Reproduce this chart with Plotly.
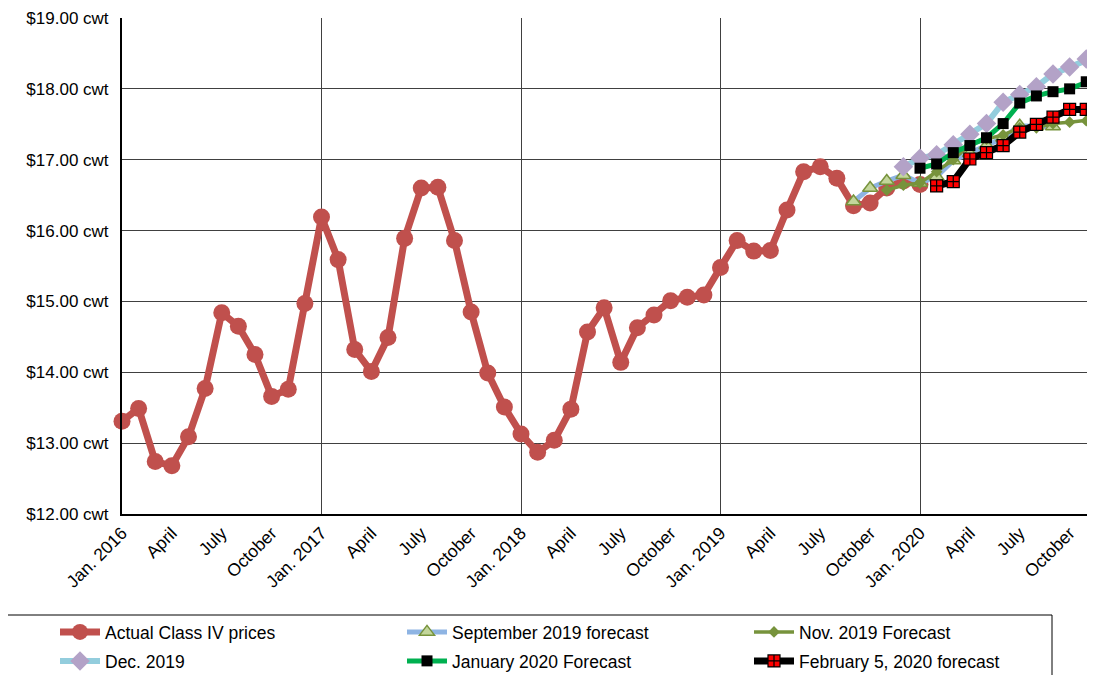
import plotly.graph_objects as go

# ---- data ----
months = [f"{y}-{m:02d}" for y in range(2016, 2021) for m in range(1, 13)]
tick_months = months[::3][:20]
tick_labels = ["Jan. 2016", "April", "July", "October",
               "Jan. 2017", "April", "July", "October",
               "Jan. 2018", "April", "July", "October",
               "Jan. 2019", "April", "July", "October",
               "Jan. 2020", "April", "July", "October"]

actual = [13.31, 13.49, 12.74, 12.68, 13.09, 13.77, 14.84, 14.65, 14.25, 13.66, 13.76, 14.97,
          16.19, 15.59, 14.32, 14.01, 14.49, 15.89, 16.60, 16.61, 15.86, 14.85, 13.99, 13.51,
          13.13, 12.87, 13.04, 13.48, 14.57, 14.91, 14.14, 14.63, 14.81, 15.01, 15.06, 15.09,
          15.48, 15.86, 15.71, 15.72, 16.29, 16.83, 16.90, 16.74, 16.35, 16.39, 16.60, 16.70,
          16.65]
actual_start = "2016-01"

sep_fc = [16.41, 16.60, 16.70, 16.78, 16.67, 16.76, 16.99, 17.09, 17.20, 17.31, 17.48, 17.47, 17.47]
sep_start = "2019-09"
nov_fc = [16.57, 16.64, 16.67, 16.83, 17.00, 17.21, 17.29, 17.35, 17.45, 17.45, 17.51, 17.53, 17.55, 17.58]
nov_start = "2019-11"
dec_fc = [16.90, 17.02, 17.07, 17.21, 17.36, 17.51, 17.81, 17.92, 18.03, 18.21, 18.31, 18.42, 18.50]
dec_start = "2019-12"
jan_fc = [16.88, 16.94, 17.10, 17.20, 17.31, 17.51, 17.80, 17.90, 17.96, 18.00, 18.10, 18.18]
jan_start = "2020-01"
feb_fc = [16.63, 16.69, 17.01, 17.10, 17.20, 17.39, 17.50, 17.60, 17.71, 17.71, 17.72]
feb_start = "2020-02"

series_names = ["Actual Class IV prices", "September 2019 forecast", "Nov. 2019 Forecast",
                "Dec. 2019", "January 2020 Forecast", "February 5, 2020 forecast"]
y_ticks = [12, 13, 14, 15, 16, 17, 18, 19]
y_tick_labels = [f"${v:.2f} cwt" for v in y_ticks]
year_starts = ["2016-01", "2017-01", "2018-01", "2019-01", "2020-01"]


def xs(start, values):
    i0 = months.index(start)
    return list(range(i0, i0 + len(values)))


FONT = "Liberation Sans, Arial, sans-serif"
OFF = 8                      # page body margin of the rendered html
W, H = 1095 - OFF, 675 - OFF
# desired plot area in screenshot pixels: left 122, top 18, bottom 514, right 1095
ML = 122 - OFF
MT = 18 - OFF
MB = H - (514 - OFF)
MR = 0

fig = go.Figure()

fig.add_trace(go.Scatter(
    x=xs(actual_start, actual), y=actual, name=series_names[0], mode="lines+markers",
    line=dict(color="#C0504D", width=7), legend="legend",
    marker=dict(symbol="circle", size=17, color="#C0504D"), cliponaxis=False))

fig.add_trace(go.Scatter(
    x=xs(sep_start, sep_fc), y=sep_fc, name=series_names[1], mode="lines+markers",
    line=dict(color="#8EB4E3", width=5), legend="legend",
    marker=dict(symbol="triangle-up", size=13, color="#C3D69B",
                line=dict(color="#77933C", width=1.5)), cliponaxis=False))

fig.add_trace(go.Scatter(
    x=xs(nov_start, nov_fc), y=nov_fc, name=series_names[2], mode="lines+markers",
    line=dict(color="#77933C", width=3.5), legend="legend",
    marker=dict(symbol="diamond", size=9, color="#77933C"), cliponaxis=False))

fig.add_trace(go.Scatter(
    x=xs(dec_start, dec_fc), y=dec_fc, name=series_names[3], mode="lines+markers",
    line=dict(color="#93CDDD", width=6), legend="legend2",
    marker=dict(symbol="diamond", size=15, color="#B3A2C7"), cliponaxis=False))

fig.add_trace(go.Scatter(
    x=xs(jan_start, jan_fc), y=jan_fc, name=series_names[4], mode="lines+markers",
    line=dict(color="#00B050", width=5), legend="legend2",
    marker=dict(symbol="square", size=11, color="#000000"), cliponaxis=False))

fig.add_trace(go.Scatter(
    x=xs(feb_start, feb_fc), y=feb_fc, name=series_names[5], mode="lines+markers",
    line=dict(color="#000000", width=7), legend="legend2",
    marker=dict(symbol="square-cross", size=12, color="#FF0000",
                line=dict(color="#000000", width=1.2)), cliponaxis=False))

plot_w = W - ML - MR
plot_h = H - MT - MB


# screenshot pixel -> paper coordinates
def px_x(p):
    return (p - OFF - ML) / plot_w


def px_y(p):
    return (H - MB - (p - OFF)) / plot_h


fig.add_shape(type="rect", xref="paper", yref="paper",
              x0=px_x(5), x1=px_x(1052), y0=px_y(680), y1=px_y(615),
              line=dict(color="#000000", width=1), fillcolor="rgba(0,0,0,0)", layer="below")

legend_common = dict(orientation="h", xref="paper", yref="paper",
                     xanchor="left", yanchor="middle",
                     entrywidth=292, entrywidthmode="pixels",
                     bgcolor="rgba(0,0,0,0)", borderwidth=0,
                     font=dict(family=FONT, size=17.5), tracegroupgap=0, itemwidth=40)

fig.update_layout(
    width=W, height=H,
    margin=dict(l=ML, r=MR, t=MT, b=MB, pad=0, autoexpand=False),
    paper_bgcolor="white", plot_bgcolor="white",
    font=dict(family=FONT, size=17, color="#000000"),
    showlegend=True,
    legend=dict(x=px_x(55), y=px_y(632), **legend_common),
    legend2=dict(x=px_x(55), y=px_y(661), **legend_common),
)

fig.update_xaxes(
    range=[0, plot_w / (199.5 / 12)],
    tickmode="array",
    tickvals=[months.index(m) for m in tick_months],
    ticktext=tick_labels,
    tickangle=-45,
    showgrid=False,
    zeroline=False,
    showline=True, linecolor="#000000", linewidth=2,
    ticks="", automargin=False, ticklabeloverflow="allow",
    minor=dict(tickmode="array", tickvals=[months.index(m) for m in year_starts],
               showgrid=True, gridcolor="#404040", gridwidth=1, ticks=""),
    tickfont=dict(family=FONT, size=17.5),
)

fig.update_yaxes(
    range=[12, 19],
    tickmode="array", tickvals=y_ticks, ticktext=y_tick_labels,
    showgrid=True, gridcolor="#404040", gridwidth=1,
    zeroline=False,
    showline=True, linecolor="#000000", linewidth=2,
    ticks="", ticklabelstandoff=8, automargin=False, ticklabeloverflow="allow",
    tickfont=dict(family=FONT, size=17),
)

fig.write_html("out.html")
